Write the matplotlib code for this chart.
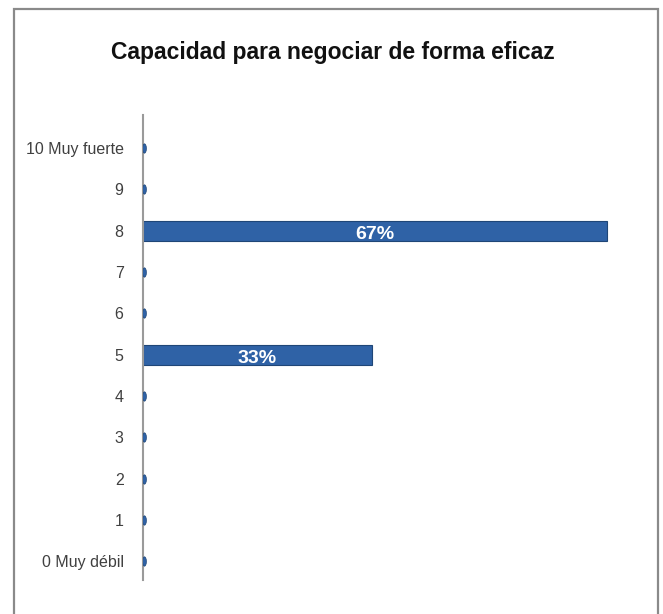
import numpy as np
import matplotlib.pyplot as plt
from matplotlib.patches import Rectangle
from matplotlib.path import Path
from matplotlib.transforms import Affine2D

# Data
labels = ["0 Muy débil", "1", "2", "3", "4", "5", "6", "7", "8", "9", "10 Muy fuerte"]
values = [0, 0, 0, 0, 0, 0.33, 0, 0, 0.67, 0, 0]
title = "Capacidad para negociar de forma eficaz"

font = "Liberation Sans"
bar_color = "#2f62a6"
edge_color = "#1f4677"

fig = plt.figure(figsize=(6.63, 6.14), dpi=100)
fig.patches.append(Rectangle((14 / 663, -0.01), 644 / 663, 1 - 9 / 614 + 0.01,
                             transform=fig.transFigure, fill=False,
                             edgecolor="#8a8a8a", linewidth=1.6))

ax = fig.add_axes([143 / 663, 34 / 614, 485 / 663, 465 / 614])
y = np.arange(len(labels))
vals = np.array(values)

nz = vals > 0
bars = ax.barh(y[nz], vals[nz], height=0.48, color=bar_color,
               edgecolor=edge_color, linewidth=0.8)

# zero-valued categories appear as small ellipses on the axis
ellipse = Path.unit_circle().transformed(Affine2D().scale(0.4, 1.0))
ax.scatter(np.full((~nz).sum(), 0.002), y[~nz], marker=ellipse, s=45,
           color=bar_color, edgecolor=edge_color, linewidth=0.5, zorder=3)

for b, v in zip(bars, vals[nz]):
    ax.text(b.get_width() / 2, b.get_y() + b.get_height() / 2 - 0.1, f"{v:.0%}",
            ha="center", va="center", color="white", fontsize=14,
            fontweight="bold", family=font)

ax.set_xlim(0, 0.70)
ax.set_ylim(-0.45, 10.8)
ax.set_yticks(y)
ax.set_yticklabels(labels, family=font, fontsize=11.5, color="#404040")
ax.tick_params(axis="y", length=0, pad=14)
ax.set_xticks([])
for s in ["top", "right", "bottom"]:
    ax.spines[s].set_visible(False)
ax.spines["left"].set_color("#9a9a9a")
ax.spines["left"].set_linewidth(1.5)

fig.text(333 / 663, 1 - 53 / 614, title, ha="center", va="center",
         fontsize=16.5, fontweight="bold", family=font, color="#111111")

fig.savefig("out.png", dpi=100)
